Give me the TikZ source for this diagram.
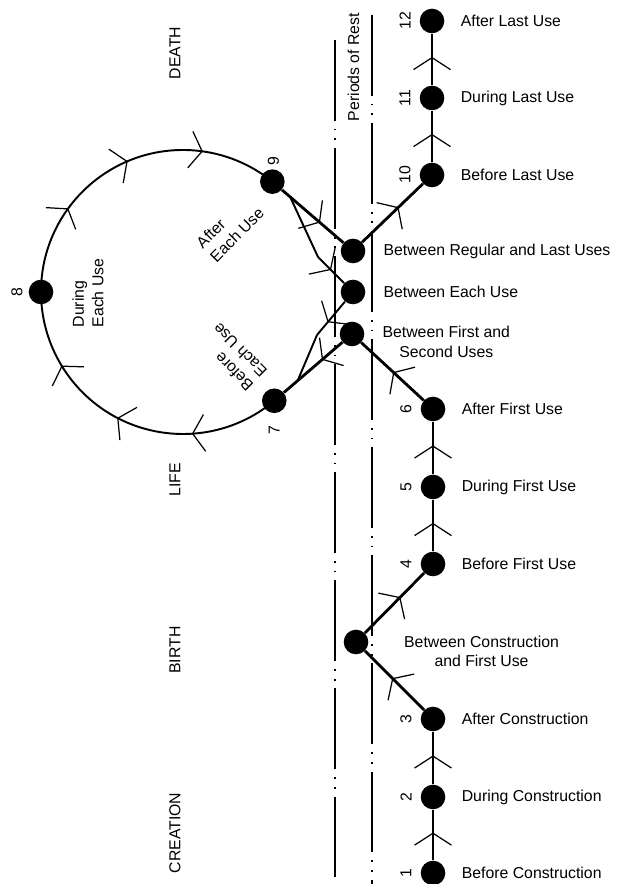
\documentclass[tikz,border=0pt]{standalone}
\usepackage{fontspec}
\setmainfont{Liberation Sans}
\usetikzlibrary{arrows.meta,positioning,calc,decorations.markings}

\tikzset{
  chev/.tip={Straight Barb[length=6.8pt,width=21pt,line width=0.7pt]},
  flow/.style={postaction={decorate},decoration={markings,mark=at position #1 with {\arrow{chev}}}},
  flow/.default=0.55,
  loopflow/.style={postaction={decorate},decoration={markings,
      mark=at position 0.28 with {\arrow{chev}},
      mark=at position 0.52 with {\arrow{chev}},
      mark=at position 0.76 with {\arrow{chev}}}},
  dot/.style={circle,fill=black,inner sep=0pt,minimum size=14pt},
  mainline/.style={line width=1.6pt},
  loopline/.style={line width=1.1pt},
  restline/.style={line width=0.6pt,dash pattern=on 46pt off 4.5pt on 1pt off 4.5pt on 1pt off 4.5pt},
  lbl/.style={font=\fontsize{9}{11}\selectfont,inner sep=1pt},
  vlbl/.style={lbl,rotate=90}
}

\begin{document}
\begin{tikzpicture}
    \useasboundingbox (0,0) rectangle (12.62,17.68);

    % periods of rest
    \draw[restline] (6.70,16.88) -- (6.70,0);
    \draw[restline] (7.44,17.38) -- (7.44,0);
    \node[vlbl] (rest) at (7.07,16.34) {Periods of Rest};

    % stages
    \node[vlbl] (death) at (3.5,16.62) {DEATH};
    \node[vlbl] (life) at (3.5,8.08) {LIFE};
    \node[vlbl] (birth) at (3.5,4.68) {BIRTH};
    \node[vlbl] (creation) at (3.5,1.02) {CREATION};

    % states
    \node[dot] (n1) at (8.66,0.22) {};
    \node[dot] (n2) at (8.66,1.74) {};
    \node[dot] (n3) at (8.66,3.30) {};
    \node[dot] (nA) at (7.12,4.84) {};
    \node[dot] (n4) at (8.66,6.40) {};
    \node[dot] (n5) at (8.66,7.94) {};
    \node[dot] (n6) at (8.66,9.50) {};
    \node[dot] (nB) at (7.04,11.00) {};
    \node[dot] (nC) at (7.06,11.84) {};
    \node[dot] (nD) at (7.06,12.66) {};
    \node[dot] (n10) at (8.64,14.18) {};
    \node[dot] (n11) at (8.64,15.72) {};
    \node[dot] (n12) at (8.64,17.26) {};

    \coordinate (ctr) at (3.66,11.84);
    \node[dot] (n7) at ($(ctr)+(-50:2.84)$) {};
    \node[dot] (n8) at ($(ctr)+(180:2.84)$) {};
    \node[dot] (n9) at ($(ctr)+(51:2.84)$) {};

    % use loop
    \draw[loopline, loopflow] (n7.center) arc[start angle=-50, end angle=-180, radius=2.84];
    \draw[loopline, loopflow] (n8.center) arc[start angle=180, end angle=51, radius=2.84];

    \coordinate (k9) at ($(n9)!0.22!(nD)$);
    \coordinate (kC) at (6.36,12.54);
    \coordinate (kB) at (6.34,10.98);
    \coordinate (k7) at ($(nB)!0.7!(n7)$);
    \draw[loopline] (k9) -- (kC);
    \draw[loopline, flow=0.5] (kC) -- (nC);
    \draw[loopline, flow=0.62] (nC) -- (kB);
    \draw[loopline] (kB) -- (k7);

    \foreach \a/\b/\p in {n1/n2/0.55, n2/n3/0.55, n3/nA/0.54, nA/n4/0.6, n4/n5/0.55, n5/n6/0.55,
        n6/nB/0.49, nB/n7/0.35, n9/nD/0.62, nD/n10/0.6, n10/n11/0.55, n11/n12/0.55}
        \draw[mainline, flow=\p] (\a) -- (\b);

    % numbers
    \foreach \i in {1,2,3,4,5,6,10,11,12}
        \node[vlbl] (l\i) at ($(n\i)+(-0.54,0)$) {\i};
    \node[vlbl] (l7) at ($(n7)+(0,-0.58)$) {7};
    \node[vlbl] (l8) at ($(n8)+(-0.48,0)$) {8};
    \node[vlbl] (l9) at ($(n9)+(0.02,0.42)$) {9};

    \node[lbl, rotate=90, align=left] (during) at (1.76,11.82) {During\\Each Use};
    \node[lbl, rotate=45, align=left] (after) at (4.60,13.12) {After\\Each Use};
    \node[lbl, rotate=135, align=left] (before) at (4.66,10.54) {Before\\Each Use};

    % descriptions
    \foreach \i/\t in {1/Before Construction, 2/During Construction, 3/After Construction,
        4/Before First Use, 5/During First Use, 6/After First Use,
        10/Before Last Use, 11/During Last Use, 12/After Last Use}
        \node[lbl, right=8pt of n\i] (t\i) {\t};
    \node[lbl, right=9pt of nD] (tD) {Between Regular and Last Uses};
    \node[lbl, right=9pt of nC] (tC) {Between Each Use};
    \node[lbl, align=center, right=9pt of nB, yshift=-4.5pt] (tB) {Between First and\\Second Uses};
    \node[lbl, align=center, right=19pt of nA, yshift=-5.5pt] (tA) {Between Construction\\and First Use};
\end{tikzpicture}
\end{document}
